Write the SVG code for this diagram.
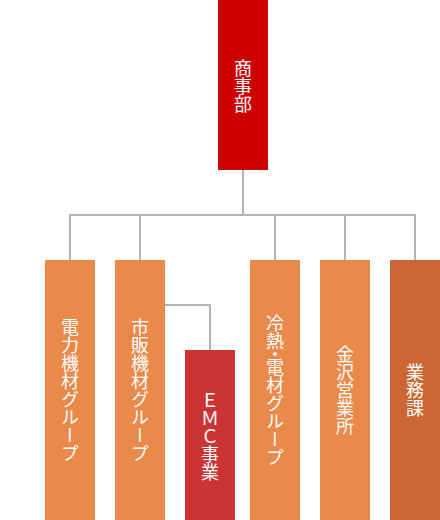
<svg xmlns="http://www.w3.org/2000/svg" width="440" height="520" viewBox="0 0 440 520">
<style>
.lbl{font-family:"Noto Sans CJK JP","Noto Sans",sans-serif;font-size:18px;fill:#fff;writing-mode:vertical-rl;text-orientation:upright;text-anchor:middle;letter-spacing:0}
.conn{fill:none;stroke:#b3b3b3;stroke-width:2}
.org{fill:#e9894a}
.tight{letter-spacing:-5px}
</style>
<g id="connectors">
<path class="conn" d="M243 170V215M70 260V215H415V260M140 215V260M275 215V260M345 215V260"/>
<path class="conn" d="M165 305H210V350"/>
</g>
<g id="n-shoji"><rect x="218" y="0" width="50" height="170" fill="#cc0000"/><text class="lbl" x="243" y="86">商事部</text></g>
<g id="n-denryoku"><rect class="org" x="45" y="260" width="50" height="260"/><text class="lbl" x="70" y="390">電力機材グループ</text></g>
<g id="n-shihan"><rect class="org" x="115" y="260" width="50" height="260"/><text class="lbl" x="140" y="390">市販機材グループ</text></g>
<g id="n-emc"><rect x="185" y="350" width="50" height="170" fill="#cc3333"/><text class="lbl" x="210" y="436">ＥＭＣ事業</text></g>
<g id="n-reinetsu"><rect class="org" x="250" y="260" width="50" height="260"/><text class="lbl" x="275" y="390">冷<tspan class="tight">熱・</tspan>電材グループ</text></g>
<g id="n-kanazawa"><rect class="org" x="320" y="260" width="50" height="260"/><text class="lbl" x="345" y="390">金沢営業所</text></g>
<g id="n-gyomu"><rect x="390" y="260" width="50" height="260" fill="#cc6633"/><text class="lbl" x="415" y="390">業務課</text></g>
</svg>
